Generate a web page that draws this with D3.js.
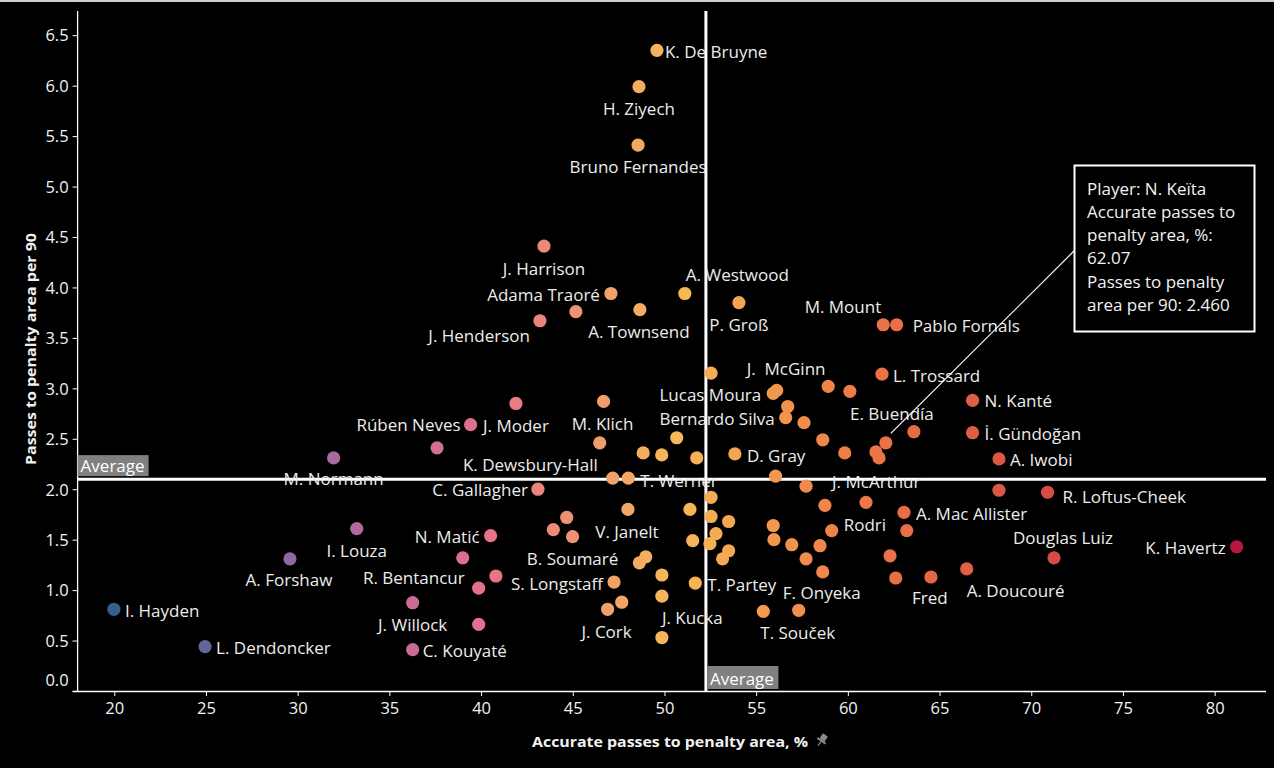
<!DOCTYPE html>
<html>
<head>
<meta charset="utf-8">
<script src="https://cdnjs.cloudflare.com/ajax/libs/d3/7.8.5/d3.min.js"></script>
<style>
  html, body { margin: 0; padding: 0; background: #000; }
  svg { display: block; }
  text { font-family: "Open Sans", "Noto Sans", sans-serif; }
</style>
</head>
<body>
<svg id="chart" width="1274" height="768"></svg>
<script>
// ---------------- DATA ----------------
const players = [
  "K. De Bruyne","H. Ziyech","Bruno Fernandes","J. Harrison","Adama Traoré","","J. Henderson","A. Townsend",
  "A. Westwood","P. Groß","M. Mount","Pablo Fornals","","Lucas Moura","J.  McGinn","","","L. Trossard",
  "N. Kanté","İ. Gündoğan","A. Iwobi","","R. Loftus-Cheek","Douglas Luiz","K. Havertz","A. Doucouré",
  "","Bernardo Silva","","","","N. Keïta","","","E. Buendía","D. Gray","","","","",
  "M. Klich","K. Dewsbury-Hall","J. Moder","Rúben Neves","","M. Normann","","T. Werner","C. Gallagher",
  "V. Janelt","","","","N. Matić","I. Louza","A. Forshaw","","","R. Bentancur","J. Willock","","C. Kouyaté",
  "","B. Soumaré","S. Longstaff","","J. Cork","","","J. Kucka","","","T. Partey",
  "","","","","","","","J. McArthur","","","","A. Mac Allister","Rodri","","","","","","",
  "F. Onyeka","","","Fred","","T. Souček","I. Hayden","L. Dendoncker"
];
const accuratePct = [
  49.59,48.61,48.56,43.43,47.08,45.17,43.21,48.66,
  51.11,54.06,61.93,62.66,52.54,55.93,56.12,58.93,60.11,61.86,
  66.80,66.80,68.24,68.24,70.89,71.24,81.20,66.48,
  56.72,56.61,57.61,58.63,59.83,62.07,61.53,61.70,63.60,53.84,51.76,50.67,49.85,48.84,
  46.68,46.47,41.90,39.43,37.60,31.96,47.18,48.03,43.10,
  48.01,44.67,43.94,44.99,40.52,33.22,29.58,39.00,40.81,39.87,36.27,39.87,36.27,
  48.98,48.63,47.25,47.67,46.90,49.86,49.86,49.86,51.39,51.54,51.68,
  52.54,52.54,53.50,52.81,52.48,53.50,53.17,57.72,56.06,60.99,58.75,63.06,59.12,63.21,55.93,55.97,56.94,58.48,57.72,
  58.63,62.30,62.61,64.53,55.39,57.32,19.98,24.95
];
const passesPer90 = [
  6.35,5.99,5.41,4.41,3.94,3.76,3.67,3.78,
  3.94,3.85,3.63,3.63,3.15,2.95,2.98,3.02,2.97,3.14,
  2.88,2.56,2.30,1.99,1.97,1.32,1.43,1.21,
  2.82,2.71,2.66,2.49,2.36,2.46,2.37,2.31,2.57,2.35,2.31,2.51,2.34,2.36,
  2.87,2.46,2.85,2.64,2.41,2.31,2.11,2.11,2.00,
  1.80,1.72,1.60,1.53,1.54,1.61,1.31,1.32,1.14,1.02,0.875,0.66,0.41,
  1.33,1.27,1.08,0.88,0.81,1.15,0.94,0.53,1.80,1.49,1.07,
  1.92,1.73,1.68,1.56,1.46,1.39,1.31,2.03,2.13,1.87,1.84,1.77,1.59,1.59,1.64,1.50,1.45,1.44,1.31,
  1.18,1.34,1.12,1.13,0.79,0.80,0.81,0.44
];
const avgAccuratePct = 52.26;
const avgPassesPer90 = 2.10;
const xTicks = [20,25,30,35,40,45,50,55,60,65,70,75,80];
const yTicks = [0,0.5,1,1.5,2,2.5,3,3.5,4,4.5,5,5.5,6,6.5];
const xTitle = "Accurate passes to penalty area, %";
const yTitle = "Passes to penalty area per 90";
const annotationLines = ["Player: N. Keïta","Accurate passes to","penalty area, %:","62.07","Passes to penalty","area per 90: 2.460"];
const paletteColors = ["#33608c","#9768a5","#e7718a","#f6ba57","#ed7846","#d54c45","#b81840"];

// ---------------- LAYOUT (label placement: anchor, dx, dy) ----------------
const labelPos = {
  "K. De Bruyne":["start",8,1], "H. Ziyech":["middle",0,22], "Bruno Fernandes":["middle",0,21],
  "J. Harrison":["middle",0,22], "Adama Traoré":["end",-11,1], "J. Henderson":["end",-10,15],
  "A. Townsend":["middle",-1,22], "A. Westwood":["start",1,-19], "P. Groß":["middle",0,22],
  "M. Mount":["end",-2,-18], "Pablo Fornals":["start",16,1], "J.  McGinn":["start",-30,-22],
  "Lucas Moura":["end",-12,1], "Bernardo Silva":["end",-11,1], "L. Trossard":["start",11,1],
  "N. Kanté":["start",12,0], "İ. Gündoğan":["start",12,1], "A. Iwobi":["start",11,1],
  "E. Buendía":["middle",-22,-18], "D. Gray":["start",12,2], "J. McArthur":["start",26,-5],
  "A. Mac Allister":["start",12,1], "Rodri":["start",12,-6], "Douglas Luiz":["middle",9,-20],
  "R. Loftus-Cheek":["start",15,4], "K. Havertz":["end",-11,1], "A. Doucouré":["start",0,22],
  "Fred":["middle",-1,21], "F. Onyeka":["middle",-1,21], "T. Souček":["middle",-1,22],
  "T. Partey":["start",12,1], "J. Kucka":["start",0,-20], "J. Cork":["middle",-1,22],
  "S. Longstaff":["end",-11,1], "B. Soumaré":["end",-21,-4], "V. Janelt":["middle",-1,22],
  "N. Matić":["end",-11,1], "I. Louza":["middle",0,22], "A. Forshaw":["middle",-1,21],
  "R. Bentancur":["end",-14,-11], "J. Willock":["middle",0,22], "C. Kouyaté":["start",10,1],
  "I. Hayden":["start",11,1], "L. Dendoncker":["start",11,1], "M. Normann":["middle",0,21],
  "Rúben Neves":["end",-10,0], "J. Moder":["middle",0,22], "M. Klich":["middle",-1,22],
  "K. Dewsbury-Hall":["end",-2,22], "T. Werner":["start",12,2], "C. Gallagher":["end",-10,0]
};

(function draw() {
const data = players.map((p,i)=>({name:p, x:accuratePct[i], y:passesPer90[i]}));

const svg = d3.select("#chart");
const W = 1274, H = 768;
const pLeft = 77.6, pRight = 1266, pTop = 11, pBottom = 691;
const FS = "17px";

const x = d3.scaleLinear().domain([18, 82.8]).range([pLeft, pRight]);
const y = d3.scaleLinear().domain([0, 6.74]).range([pBottom, pTop]);

const ext = d3.extent(accuratePct);
const stops = paletteColors.map((c,i)=> ext[0] + i*(ext[1]-ext[0])/(paletteColors.length-1));
const color = d3.scaleLinear().domain(stops).range(paletteColors).interpolate(d3.interpolateRgb);

svg.append("rect").attr("width",W).attr("height",H).attr("fill","#000");
svg.append("rect").attr("x",0).attr("y",0).attr("width",W).attr("height",2).attr("fill","#d0d0d0");

// axes
const yAxis = d3.axisLeft(y).tickValues(yTicks).tickFormat(d3.format(".1f")).tickSize(5).tickPadding(4);
const gy = svg.append("g").attr("transform",`translate(${pLeft},0)`).call(yAxis);
gy.select(".domain").remove();
gy.selectAll(".tick line").attr("stroke","#fff");
gy.selectAll(".tick text").attr("fill","#f2f2f2").style("font-size","16.5px")
  .attr("dy", d => d===0 ? "-0.35em" : "0.35em");

const xAxis = d3.axisBottom(x).tickValues(xTicks).tickSize(5).tickPadding(6);
const gx = svg.append("g").attr("transform",`translate(0,${pBottom})`).call(xAxis);
gx.select(".domain").remove();
gx.selectAll(".tick line").attr("stroke","#fff");
gx.selectAll(".tick text").attr("fill","#f2f2f2").style("font-size","16.5px");

svg.append("line").attr("x1",pLeft).attr("x2",pLeft).attr("y1",pTop).attr("y2",pBottom+1).attr("stroke","#fff").attr("stroke-width",1.3);
svg.append("line").attr("x1",pLeft-5).attr("x2",pRight).attr("y1",pBottom+0.5).attr("y2",pBottom+0.5).attr("stroke","#fff").attr("stroke-width",1.3);

// average lines
svg.append("line").attr("x1",pLeft).attr("x2",pRight).attr("y1",y(avgPassesPer90)).attr("y2",y(avgPassesPer90))
  .attr("stroke","#fff").attr("stroke-width",3);
svg.append("line").attr("x1",x(avgAccuratePct)).attr("x2",x(avgAccuratePct)).attr("y1",pTop).attr("y2",pBottom)
  .attr("stroke","#fff").attr("stroke-width",3);

// points
svg.append("g").selectAll("circle").data(data).join("circle")
  .attr("cx",d=>x(d.x)).attr("cy",d=>y(d.y)).attr("r",6.6)
  .attr("fill",d=>color(d.x));

// labels
svg.append("g").selectAll("text").data(data.filter(d=>labelPos[d.name])).join("text")
  .attr("x",d=>x(d.x)+labelPos[d.name][1])
  .attr("y",d=>y(d.y)+labelPos[d.name][2])
  .attr("text-anchor",d=>labelPos[d.name][0])
  .attr("dominant-baseline","central")
  .style("white-space","pre")
  .style("font-size",FS)
  .attr("fill","#ececec")
  .text(d=>d.name);

// average label boxes
const hy = y(avgPassesPer90);
svg.append("rect").attr("x",pLeft).attr("y",hy-24).attr("width",71).attr("height",21).attr("fill","#808080");
svg.append("text").attr("x",pLeft+3).attr("y",hy-13.5).attr("dominant-baseline","central")
  .style("font-size",FS).attr("fill","#fff").text("Average");
const vx = x(avgAccuratePct);
svg.append("rect").attr("x",vx+1.5).attr("y",pBottom-25).attr("width",71).attr("height",23).attr("fill","#808080");
svg.append("text").attr("x",vx+4).attr("y",pBottom-13).attr("dominant-baseline","central")
  .style("font-size",FS).attr("fill","#fff").text("Average");

// annotation for N. Keïta
const keita = data.find(d=>d.name==="N. Keïta");
const bx = 1074.5, by = 165.5, bw = 180, bh = 166;
svg.append("line").attr("x1",x(keita.x)+5).attr("y1",y(keita.y)-9.5).attr("x2",bx).attr("y2",by+85)
  .attr("stroke","#fff").attr("stroke-width",1.2);
svg.append("rect").attr("x",bx).attr("y",by).attr("width",bw).attr("height",bh)
  .attr("fill","#000").attr("stroke","#fff").attr("stroke-width",2);
svg.append("g").selectAll("text").data(annotationLines).join("text")
  .attr("x",bx+12.5).attr("y",(d,i)=>by+22.5+i*23.3).attr("dominant-baseline","central")
  .style("font-size",FS).attr("fill","#f2f2f2").text(d=>d);

// axis titles
svg.append("text").attr("x",(532+808)/2).attr("y",741).attr("text-anchor","middle")
  .attr("dominant-baseline","central").style("font-size","14px").style("font-weight","bold")
  .attr("fill","#f2f2f2").attr("textLength",276).attr("lengthAdjust","spacingAndGlyphs").text(xTitle);
// pin icon
const pin = svg.append("g").attr("transform","translate(822,740) rotate(35)").attr("fill","#8a8a8a");
pin.append("rect").attr("x",-3).attr("y",-6).attr("width",6).attr("height",6);
pin.append("rect").attr("x",-5).attr("y",0).attr("width",10).attr("height",2);
pin.append("rect").attr("x",-0.6).attr("y",2).attr("width",1.2).attr("height",5);

svg.append("text").attr("transform","translate(30,349) rotate(-90)").attr("text-anchor","middle")
  .attr("dominant-baseline","central").style("font-size","14px").style("font-weight","bold")
  .attr("fill","#f2f2f2").attr("textLength",232).attr("lengthAdjust","spacingAndGlyphs").text(yTitle);
})();
</script>
</body>
</html>
